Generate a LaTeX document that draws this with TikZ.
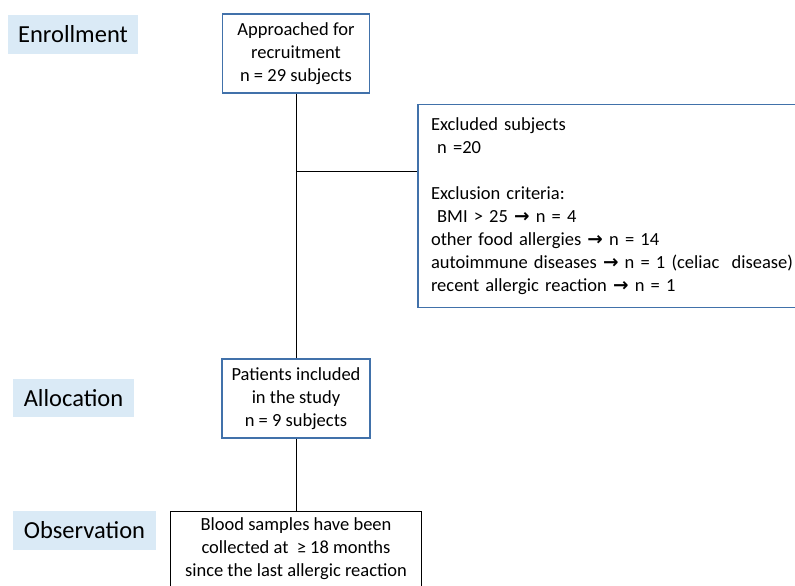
\documentclass[tikz,border=0pt]{standalone}
\usepackage{fontspec}
\setmainfont{Carlito}
\newfontfamily\symfont{DejaVu Sans}
\usetikzlibrary{positioning}
\definecolor{boxblue}{RGB}{65,113,170}
\definecolor{phasefill}{RGB}{218,234,246}
\newcommand{\rarrow}{{\symfont\bfseries\char"2192}}

\begin{document}
\begin{tikzpicture}[
        x=1pt, y=-1pt,
        phase/.style={
            rectangle,
            fill=phasefill,
            inner sep=0pt,
            font=\fontsize{24.5}{28}\selectfont
        },
        flowbox/.style={
            rectangle,
            draw=boxblue,
            line width=1.3pt,
            fill=white,
            align=center,
            inner sep=0pt,
            font=\fontsize{18.5}{23}\selectfont
        },
        link/.style={line width=1pt}
    ]
        \clip (0,0) rectangle (795,586);
        \fill[white] (0,0) rectangle (795,586);
        % phase labels on the left
        \node[phase, minimum width=130pt, minimum height=39pt] (enroll) at (73,34.5) {Enrollment};
        \node[phase, minimum width=121pt, minimum height=38pt] (alloc) at (73.5,398) {Allocation};
        \node[phase, minimum width=143pt, minimum height=39pt] (observ) at (84.5,530.5) {Observation};
        % flow boxes
        \node[flowbox, minimum width=147pt, minimum height=79pt] (approach) at (296,53.5) {Approached for\\ recruitment\\ n = 29 subjects};
        \node[flowbox, minimum width=148pt, minimum height=79pt] (included) at (296,398.5) {Patients included\\ in the study\\ n = 9 subjects};
        \node[flowbox, draw=black, line width=1pt, minimum width=251pt, minimum height=76pt] (blood) at (296,549) {Blood samples have been\\ collected at \ ≥ 18 months\\ since the last allergic reaction};
        \node[flowbox, align=left, inner xsep=13pt, text width=376pt, minimum height=203pt] (excluded) at (619,206) {Excluded subjects\\
            \ n =20\\[23pt]
            Exclusion criteria:\\
            \ BMI > 25 \rarrow\ n = 4\\
            other food allergies \rarrow\ n = 14\\
            autoimmune diseases \rarrow\ n = 1 (celiac \ disease)\\
            recent allergic reaction \rarrow\ n = 1};
        % connectors
        \coordinate (split) at (296,171);
        \draw[link] (approach) -- (included);
        \draw[link] (included) -- (blood);
        \draw[link] (split) -- (split -| excluded.west);
    \end{tikzpicture}
\end{document}
